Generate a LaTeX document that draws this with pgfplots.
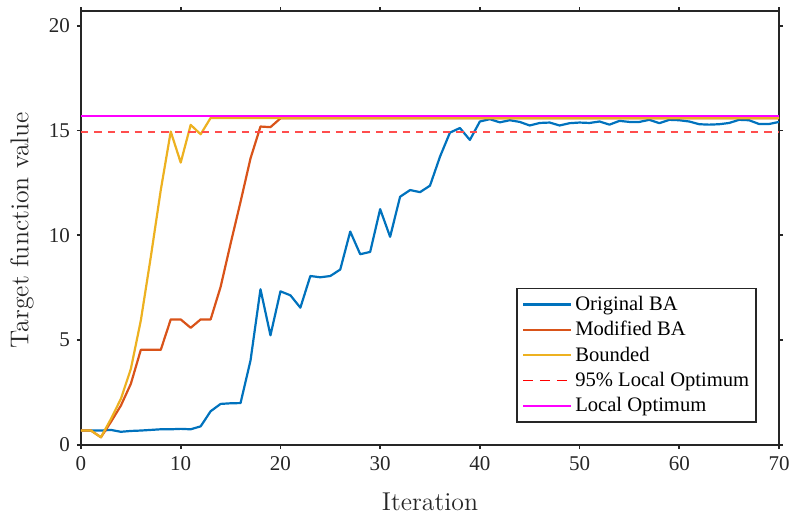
\documentclass[border=0pt]{standalone}
\usepackage{fontspec}
\usepackage{pgfplots}
\pgfplotsset{compat=1.18}
\usepackage{pgfplotstable}
\newfontfamily\timesfont{Liberation Serif}

\definecolor{mblue}{RGB}{0,114,189}
\definecolor{morange}{RGB}{217,83,25}
\definecolor{myellow}{RGB}{237,177,32}
\definecolor{dashred}{RGB}{255,77,77}
\definecolor{optpink}{RGB}{255,0,255}
\definecolor{axgray}{RGB}{38,38,38}

% Best target value per iteration for the three bat-algorithm variants
\pgfplotstableread{
it orig  mod   bnd
0  0.69  0.69  0.69
1  0.69  0.69  0.69
2  0.69  0.37  0.37
3  0.72  1.10  1.24
4  0.63  1.88  2.20
5  0.67  2.92  3.63
6  0.69  4.54  5.94
7  0.72  4.54  8.97
8  0.75  4.54  12.16
9  0.75  5.99  14.95
10 0.77  5.99  13.47
11 0.75  5.59  15.27
12 0.89  5.99  14.82
13 1.61  5.99  15.60
14 1.96  7.54  15.60
15 1.99  9.60  15.60
16 2.00  11.60 15.60
17 4.03  13.67 15.60
18 7.43  15.19 15.60
19 5.23  15.16 15.60
20 7.33  15.58 15.60
21 7.14  15.58 15.60
22 6.55  15.58 15.60
23 8.06  15.58 15.60
24 8.00  15.58 15.60
25 8.06  15.58 15.60
26 8.37  15.58 15.60
27 10.18 15.58 15.60
28 9.10  15.58 15.60
29 9.21  15.58 15.60
30 11.25 15.58 15.60
31 9.93  15.58 15.60
32 11.84 15.58 15.60
33 12.16 15.58 15.60
34 12.06 15.58 15.60
35 12.37 15.58 15.60
36 13.75 15.58 15.60
37 14.90 15.58 15.60
38 15.12 15.58 15.60
39 14.55 15.58 15.60
40 15.43 15.58 15.60
41 15.54 15.58 15.60
42 15.39 15.58 15.60
43 15.49 15.58 15.60
44 15.41 15.58 15.60
45 15.24 15.58 15.60
46 15.36 15.58 15.60
47 15.38 15.58 15.60
48 15.24 15.58 15.60
49 15.35 15.58 15.60
50 15.38 15.58 15.60
51 15.36 15.58 15.60
52 15.43 15.58 15.60
53 15.28 15.58 15.60
54 15.46 15.58 15.60
55 15.41 15.58 15.60
56 15.41 15.58 15.60
57 15.51 15.58 15.60
58 15.35 15.58 15.60
59 15.51 15.58 15.60
60 15.49 15.58 15.60
61 15.43 15.58 15.60
62 15.30 15.58 15.60
63 15.28 15.58 15.60
64 15.30 15.58 15.60
65 15.36 15.58 15.60
66 15.51 15.58 15.60
67 15.49 15.58 15.60
68 15.31 15.58 15.60
69 15.31 15.58 15.60
70 15.41 15.58 15.60
}\convdata

\begin{document}
\begin{tikzpicture}
\useasboundingbox (-40.5pt,-35pt) rectangle (354.5pt,222.5pt);
\begin{axis}[
  at={(0pt,0pt)}, anchor=south west,
  scale only axis, width=349pt, height=217pt,
  xmin=0, xmax=70, ymin=0, ymax=20.7,
  xtick={0,10,...,70}, ytick={0,5,...,20},
  axis line style={draw=axgray, line width=0.9pt},
  tick align=outside, major tick length=2pt,
  tick style={draw=axgray, line width=0.9pt},
  /pgf/number format/assume math mode=true,
  ticklabel style={font=\timesfont\fontsize{10.5}{12}\selectfont, text=axgray},
  xlabel={Iteration},
  ylabel={Target function value},
  label style={font=\fontsize{12.9}{15}\selectfont, text=axgray},
  xlabel style={at={(axis description cs:0.5,-0.152)}, anchor=base},
  ylabel style={at={(axis description cs:-0.0845,0.495)}, anchor=center},
  legend image code/.code={\draw[#1] (0pt,0pt) -- (24pt,0pt);},
  legend cell align=left,
  legend style={at={(0.9685,0.0507)}, anchor=south east,
    draw=axgray, line width=0.8pt, fill=white,
    font=\timesfont\fontsize{10.3}{12}\selectfont,
    inner xsep=2.5pt, inner ysep=1.7pt, row sep=0pt,
    nodes={inner sep=1pt, text height=8.2pt, text depth=2.5pt},
    /tikz/column sep=0.5pt},
  every axis plot/.append style={line join=round},
]
\addplot[mblue, line width=1.1pt] table[x=it, y=orig] {\convdata};
\addlegendentry{Original BA}
\addplot[morange, line width=1.1pt] table[x=it, y=mod] {\convdata};
\addlegendentry{Modified BA}
\addplot[myellow, line width=1.1pt] table[x=it, y=bnd] {\convdata};
\addlegendentry{Bounded}
\addplot[dashred, line width=0.8pt, dash pattern=on 3.7pt off 3pt,
  legend image code/.code={\draw[red, line width=0.6pt, dash pattern=on 5pt off 3.4pt] (0pt,0pt) -- (24pt,0pt);}]
  coordinates {(0,14.915) (70,14.915)};
\addlegendentry{95\% Local Optimum}
\addplot[optpink, line width=0.75pt] coordinates {(0,15.70) (70,15.70)};
\addlegendentry{Local Optimum}
\end{axis}
\end{tikzpicture}
\end{document}
